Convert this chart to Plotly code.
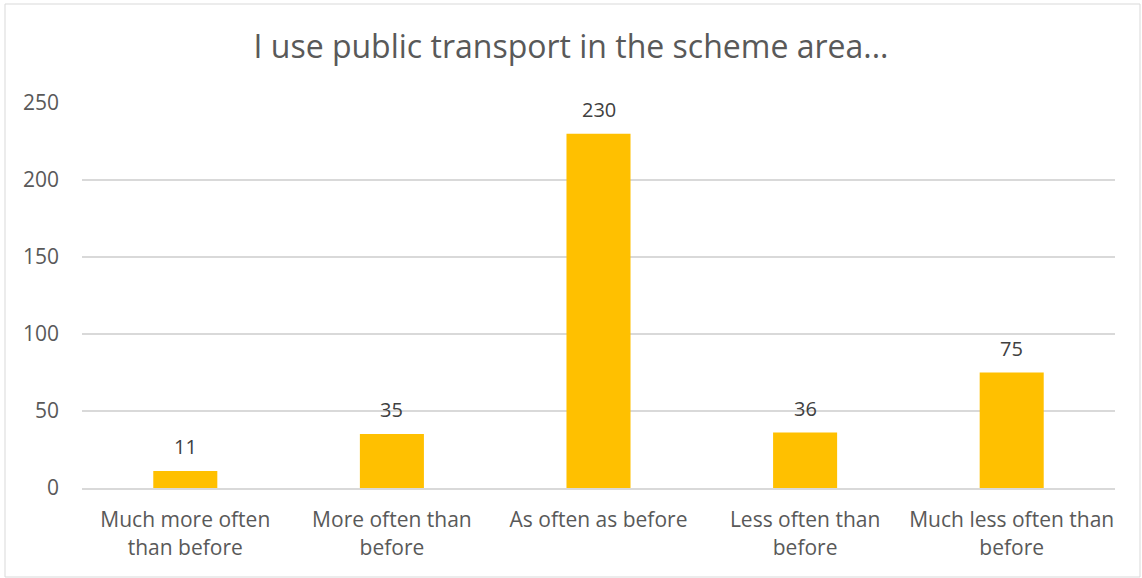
import plotly.graph_objects as go

categories = ["Much more often<br>than before", "More often than<br>before", "As often as before",
              "Less often than<br>before", "Much less often than<br>before"]
values = [11, 35, 230, 36, 75]
y_ticks = [0, 50, 100, 150, 200, 250]

W, H = 1142, 578
L, R, T, B = 82, 27, 103, 90
pw, ph = W - L - R, H - T - B

font_family = "Open Sans, Liberation Sans, sans-serif"
grey = "#595959"

fig = go.Figure()
fig.add_trace(go.Bar(x=categories, y=values, marker=dict(color="#FFC000", line=dict(width=0)),
                     hoverinfo="skip"))

for c, v in zip(categories, values):
    fig.add_annotation(x=c, y=v, text=str(v), showarrow=False, yanchor="bottom", yshift=9,
                       font=dict(size=20, color="#404040", family=font_family))

def px_x(p):
    return (p - L) / pw

def px_y(p):
    return (H - B - p) / ph

fig.add_shape(type="rect", xref="paper", yref="paper",
              x0=px_x(5), x1=px_x(1140), y0=px_y(577), y1=px_y(4),
              line=dict(color="#D9D9D9", width=1), layer="below")

fig.update_layout(
    width=W, height=H,
    margin=dict(l=L, r=R, t=T, b=B),
    paper_bgcolor="white", plot_bgcolor="white",
    bargap=0.69,
    showlegend=False,
    title=dict(text="I use public transport in the scheme area...", x=0.5, xanchor="center",
               y=1 - 47 / H, yanchor="middle", xref="container",
               font=dict(size=32, color=grey, family=font_family)),
    font=dict(family=font_family, color=grey, size=21),
)
fig.update_xaxes(showgrid=False, showline=True, linecolor="#D9D9D9", linewidth=2,
                 tickfont=dict(size=21, color=grey), ticks="", ticklabelstandoff=12, fixedrange=True)
fig.update_yaxes(range=[0, 250], tickvals=y_ticks, showgrid=True, gridcolor="#D9D9D9", gridwidth=2,
                 zeroline=False, showline=False, ticks="", ticklabelstandoff=22,
                 tickfont=dict(size=21, color=grey), fixedrange=True)

fig.write_html("out.html")
